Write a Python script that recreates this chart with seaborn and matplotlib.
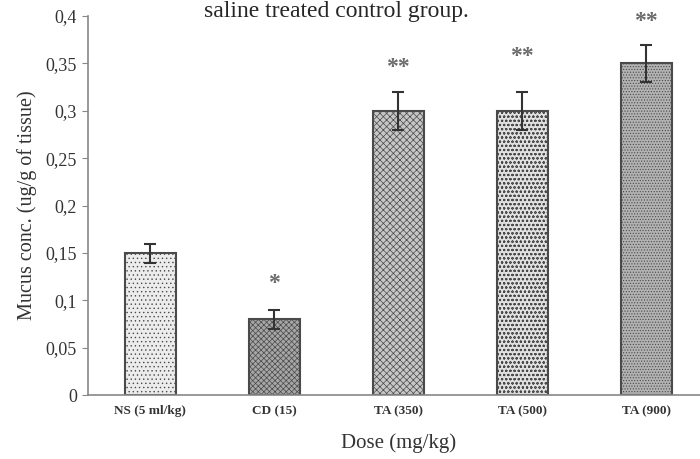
import matplotlib
matplotlib.use("Agg")
import matplotlib.pyplot as plt
import seaborn as sns
import pandas as pd
import numpy as np

categories = ["NS (5 ml/kg)", "CD (15)", "TA (350)", "TA (500)", "TA (900)"]
values = [0.15, 0.08, 0.30, 0.30, 0.35]
errors = [0.01, 0.01, 0.02, 0.02, 0.02]
stars = ["", "*", "**", "**", "**"]
star_y = [None, 0.118, 0.346, 0.357, 0.394]
yticks = [0, 0.05, 0.1, 0.15, 0.2, 0.25, 0.3, 0.35, 0.4]
ytick_labels = ["0", "0,05", "0,1", "0,15", "0,2", "0,25", "0,3", "0,35", "0,4"]

face_colors = ["#ececec", "#a6a6a6", "#c6c6c6", "#e0e0e0", "#b2b2b2"]
hatches = ["....", "xxxxxx", "xxxxx", "oooo", "......"]

sns.set_style("white")
plt.rcParams["font.family"] = ["Liberation Serif", "DejaVu Serif"]
plt.rcParams["hatch.color"] = "#8a8a8a"
plt.rcParams["hatch.linewidth"] = 0.5

fig = plt.figure(figsize=(7.0, 4.59), dpi=100)
ax = fig.add_axes([0.126, 0.139, 0.886, 0.826])

df = pd.DataFrame({"cat": categories, "val": values})
sns.barplot(data=df, x="cat", y="val", hue="cat", palette=face_colors,
            legend=False, width=0.41, ax=ax, edgecolor="#4a4a4a", linewidth=1.5)
for p, h in zip(ax.patches, hatches):
    p.set_hatch(h)

xs = np.arange(len(categories))
ax.errorbar(xs, values, yerr=errors, fmt="none", ecolor="#333333",
            elinewidth=1.5, capsize=4, capthick=1.5)
for x, s, y in zip(xs, stars, star_y):
    if s:
        ax.text(x, y, s, ha="center", va="center", fontsize=17,
                color="#6a6a6a", fontweight="bold")

ax.set_xlim(-0.5, 4.5)
ax.set_ylim(0, 0.4)
ax.set_yticks(yticks)
ax.set_yticklabels(ytick_labels, fontsize=13, color="#333333")
ax.set_xticks(xs)
ax.set_xticklabels(categories, fontsize=9.5, fontweight="bold", color="#333333")
ax.set_xticks(np.arange(0.5, 4.5, 1), minor=True)
ax.tick_params(axis="x", which="major", length=0, pad=7)
ax.tick_params(axis="x", which="minor", length=4, color="#888888", direction="out")
ax.tick_params(axis="y", length=4, color="#888888", direction="out", left=True, pad=4)
for sp in ["top", "right"]:
    ax.spines[sp].set_visible(False)
for sp in ["left", "bottom"]:
    ax.spines[sp].set_color("#888888")
    ax.spines[sp].set_linewidth(1.2)

ax.set_xlabel("Dose (mg/kg)", fontsize=15, labelpad=12, color="#333333")
ax.set_ylabel("Mucus conc. (ug/g of tissue)", fontsize=14.5, labelpad=6, color="#333333")
fig.text(0.48, 1 - 17 / 459, "saline treated control group.", ha="center",
         va="baseline", fontsize=17)

fig.savefig("out.png", dpi=100)
